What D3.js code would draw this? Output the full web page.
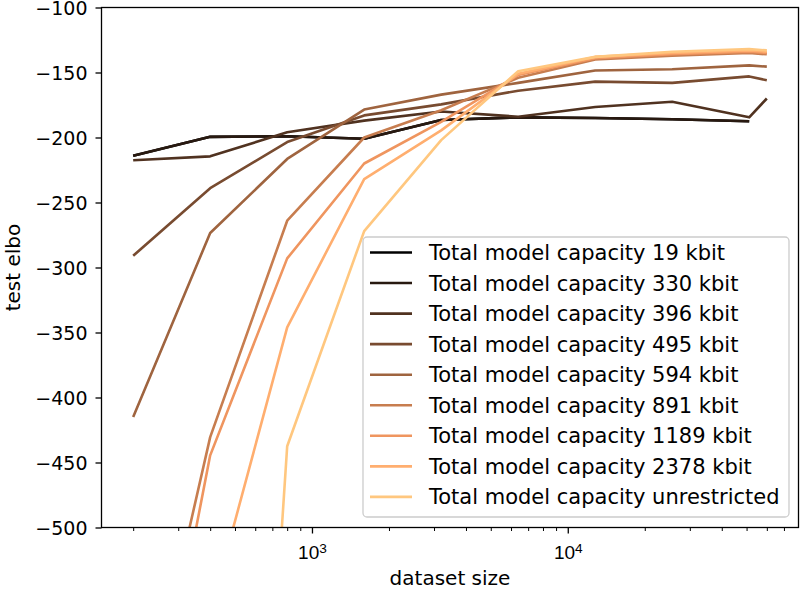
<!DOCTYPE html>
<html>
<head>
<meta charset="utf-8">
<script src="https://cdn.jsdelivr.net/npm/d3@7/dist/d3.min.js"></script>
<style>
body { margin: 0; background: #fff; }
svg { font-family: "DejaVu Sans", sans-serif; }
</style>
</head>
<body>
<script>
(function(){

//data
var sizes = [200, 400, 800, 1600, 3200, 6400, 12800, 25600, 51200, 60000];
var capacityLabels = ["19 kbit", "330 kbit", "396 kbit", "495 kbit", "594 kbit",
    "891 kbit", "1189 kbit", "2378 kbit", "unrestricted"];
var elbo19   = [-214, -199.5, -199, -201, -186.5, -184.5, -185, -186, -187.5, null];
var elbo330  = [-214, -199.5, -199, -201, -186.5, -184.5, -185, -186, -187.5, null];
var elbo396  = [-217.5, -214.5, -196, -187, -180, -184, -176.5, -172.5, -184.5, -170];
var elbo495  = [-291, -239, -203.5, -183, -174.5, -164, -157, -158, -153, -156];
var elbo594  = [-415, -273.5, -216.5, -178.5, -167, -158, -148.5, -147.5, -144.5, -145.5];
var elbo891  = [-690, -430.5, -264, -200, -179, -154, -140, -137, -135, -136];
var elbo1189 = [-750, -444.5, -293, -220, -188, -152, -139, -136, -134, -135];
var elbo2378 = [-820, -566, -346, -232, -194.5, -151, -138, -135, -133, -134];
var elboUnrestricted = [-1500, -1342, -437.5, -272, -202, -149, -138, -134, -132, -133];
var seriesValues = [elbo19, elbo330, elbo396, elbo495, elbo594, elbo891, elbo1189, elbo2378, elboUnrestricted];

var yTicks = [-100, -150, -200, -250, -300, -350, -400, -450, -500];
var xMajorTicks = [1000, 10000];
var xMinorTicks = [200, 300, 400, 500, 600, 700, 800, 900,
    2000, 3000, 4000, 5000, 6000, 7000, 8000, 9000,
    20000, 30000, 40000, 50000, 60000, 70000];

//frame
var width = 803, height = 592,
    left = 101.5, right = 798.5, top = 7.5, bottom = 527.5,
    tickFont = 19, labelFont = 20, legendFont = 21;

var svg = d3.select("body").append("svg")
    .attr("width", width)
    .attr("height", height);

//log x with matplotlib-like 5% margins
var lo = Math.log10(sizes[0]), hi = Math.log10(sizes[sizes.length - 1]),
    pad = (hi - lo) * 0.05;
var x = d3.scaleLog()
    .domain([Math.pow(10, lo - pad), Math.pow(10, hi + pad)])
    .range([left, right]);
var y = d3.scaleLinear()
    .domain([-500, -100])
    .range([bottom, top]);

//copper colormap
function copper(t){
    return d3.rgb(255 * Math.min(1, 1.25 * t), 255 * 0.7812 * t, 255 * 0.4975 * t).toString();
};

svg.append("clipPath").attr("id", "plotClip")
    .append("rect")
    .attr("x", left).attr("y", top)
    .attr("width", right - left).attr("height", bottom - top);

var line = d3.line()
    .defined(function(d){ return d[1] !== null; })
    .x(function(d){ return x(d[0]); })
    .y(function(d){ return y(d[1]); });

svg.append("g").attr("clip-path", "url(#plotClip)")
    .selectAll(".series")
    .data(seriesValues)
    .enter()
    .append("path")
    .attr("class", "series")
    .attr("fill", "none")
    .attr("stroke", function(d, i){ return copper(i / (seriesValues.length - 1)); })
    .attr("stroke-width", 2.6)
    .attr("stroke-linejoin", "round")
    .attr("d", function(vals){
        return line(sizes.map(function(s, j){ return [s, vals[j]]; }));
    });

//y axis
var yAxis = svg.append("g")
    .attr("transform", "translate(" + left + ",0)")
    .call(d3.axisLeft(y).tickValues(yTicks).tickSize(6).tickSizeOuter(0).tickPadding(8)
        .tickFormat(function(d){ return "\u2212" + Math.abs(d); }));
yAxis.select(".domain").remove();
yAxis.selectAll("line").attr("stroke", "#000").attr("stroke-width", 1.3);
yAxis.selectAll("text").attr("font-size", tickFont).attr("font-family", "DejaVu Sans")
    .attr("fill", "#000").attr("dy", "0.38em");

//x axis, major and minor
var xMinor = svg.append("g")
    .attr("transform", "translate(0," + bottom + ")")
    .call(d3.axisBottom(x).tickValues(xMinorTicks).tickSize(3.5).tickSizeOuter(0).tickFormat(""));
xMinor.select(".domain").remove();
xMinor.selectAll("line").attr("stroke", "#000").attr("stroke-width", 1);

var xMajor = svg.append("g")
    .attr("transform", "translate(0," + bottom + ")")
    .call(d3.axisBottom(x).tickValues(xMajorTicks).tickSize(6).tickSizeOuter(0).tickFormat(""));
xMajor.select(".domain").remove();
xMajor.selectAll("line").attr("stroke", "#000").attr("stroke-width", 1.3);
xMajor.selectAll(".tick text").remove();
var xLabels = xMajor.selectAll(".tick").append("text")
    .attr("y", 31)
    .attr("fill", "#000")
    .attr("font-size", tickFont)
    .attr("text-anchor", "middle");
xLabels.append("tspan").text("10");
xLabels.append("tspan")
    .attr("font-size", tickFont * 0.72)
    .attr("dy", -6)
    .text(function(d){ return Math.round(Math.log10(d)); });

//spines
svg.append("rect")
    .attr("x", left).attr("y", top)
    .attr("width", right - left).attr("height", bottom - top)
    .attr("fill", "none").attr("stroke", "#000").attr("stroke-width", 1.3);

//axis titles
svg.append("text")
    .attr("x", (left + right) / 2).attr("y", 585)
    .attr("text-anchor", "middle")
    .attr("font-size", labelFont)
    .text("dataset size");
svg.append("text")
    .attr("transform", "translate(20," + ((top + bottom) / 2) + ") rotate(-90)")
    .attr("text-anchor", "middle")
    .attr("font-size", labelFont)
    .text("test elbo");

//legend
var legend = svg.append("g").attr("transform", "translate(363,237)");
legend.append("rect")
    .attr("width", 426).attr("height", 280)
    .attr("rx", 4).attr("ry", 4)
    .attr("fill", "#fff").attr("fill-opacity", 0.8)
    .attr("stroke", "#ccc").attr("stroke-width", 1.3);
var rows = legend.selectAll(".row")
    .data(capacityLabels)
    .enter()
    .append("g")
    .attr("class", "row")
    .attr("transform", function(d, i){ return "translate(0," + (15.5 + i * 30.55) + ")"; });
rows.append("line")
    .attr("x1", 7).attr("x2", 49)
    .attr("stroke", function(d, i){ return copper(i / (capacityLabels.length - 1)); })
    .attr("stroke-width", 2.6);
rows.append("text")
    .attr("x", 66)
    .attr("dy", "0.36em")
    .attr("font-size", legendFont)
    .text(function(d){ return "Total model capacity " + d; });

})();
</script>
</body>
</html>
